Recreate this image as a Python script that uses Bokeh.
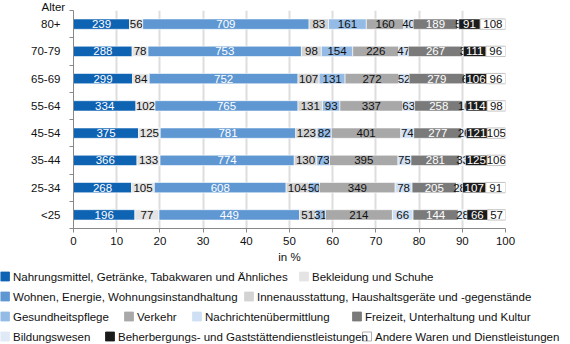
from bokeh.plotting import figure
from bokeh.models import ColumnDataSource, FixedTicker, Range1d, Title
from bokeh.embed import file_html
from bokeh.resources import INLINE
from bokeh.core.properties import value

ages = ["80+", "70-79", "65-69", "55-64", "45-54", "35-44", "25-34", "<25"]

nahrung = [239, 288, 299, 334, 375, 366, 268, 196]
bekleidung = [56, 78, 84, 102, 125, 133, 105, 77]
wohnen = [709, 753, 752, 765, 781, 774, 608, 449]
innen = [83, 98, 107, 131, 123, 130, 104, 51]
gesundheit = [161, 154, 131, 93, 82, 73, 50, 31]
verkehr = [160, 226, 272, 337, 401, 395, 349, 214]
nachrichten = [40, 47, 52, 63, 74, 75, 78, 66]
freizeit = [189, 267, 279, 258, 277, 281, 205, 144]
bildung = [5, 3, 6, 16, 26, 33, 28, 28]
beherbergung = [91, 111, 106, 114, 121, 125, 107, 66]
andere = [108, 96, 96, 98, 105, 106, 91, 57]

names = [
    "Nahrungsmittel, Getränke, Tabakwaren und Ähnliches",
    "Bekleidung und Schuhe",
    "Wohnen, Energie, Wohnungsinstandhaltung",
    "Innenausstattung, Haushaltsgeräte und -gegenstände",
    "Gesundheitspflege",
    "Verkehr",
    "Nachrichtenübermittlung",
    "Freizeit, Unterhaltung und Kultur",
    "Bildungswesen",
    "Beherbergungs- und Gaststättendienstleistungen",
    "Andere Waren und Dienstleistungen",
]
series = [nahrung, bekleidung, wohnen, innen, gesundheit, verkehr,
          nachrichten, freizeit, bildung, beherbergung, andere]
x_ticks = [0, 10, 20, 30, 40, 50, 60, 70, 80, 90, 100]
y_title = "Alter"
x_title = "in %"

colors = ["#0f63b3", "#e4e4e4", "#5e97d2", "#d3d3d3", "#94bbe5", "#a8a8a8",
          "#cfe0f4", "#7a7a7a", "#dfeaf6", "#1b1b1b", "#ffffff"]
label_colors = ["white", "#111111", "white", "#111111", "#111111", "#111111",
                "#111111", "white", "#111111", "white", "#111111"]
outline_colors = ["white"] * 10 + ["#9a9a9a"]

FONT = "Liberation Sans"
FS = "11.5px"

n = len(ages)
totals = [sum(s[i] for s in series) for i in range(n)]
ypos = [n - 0.5 - i for i in range(n)]

p = figure(width=570, height=268, x_range=Range1d(0, 100), y_range=Range1d(0, n),
           min_border_left=73, min_border_right=65, min_border_top=10,
           min_border_bottom=40, toolbar_location=None, output_backend="svg")
p.outline_line_color = None
p.ygrid.visible = False
p.xgrid.ticker = FixedTicker(ticks=x_ticks)
p.xgrid.grid_line_color = "#dddddd"
p.xgrid.grid_line_width = 2

t = Title(text=y_title, align="left", offset=-32, standoff=-5,
          text_font=FONT, text_font_size=FS, text_font_style="normal",
          text_color="#111111")
p.add_layout(t, "above")

cum = [0.0] * n
for k, s in enumerate(series):
    left = [cum[i] for i in range(n)]
    pct = [100.0 * s[i] / totals[i] for i in range(n)]
    right = [left[i] + pct[i] for i in range(n)]
    mid = [(left[i] + right[i]) / 2 for i in range(n)]
    src = ColumnDataSource(dict(y=ypos, left=left, right=right, mid=mid,
                                txt=[str(v) for v in s]))
    p.hbar(y="y", left="left", right="right", height=0.38, source=src,
           fill_color=colors[k], line_color=outline_colors[k], line_width=0.6)
    p.text(x="mid", y="y", text="txt", source=src, text_align="center",
           text_baseline="middle", text_font=value(FONT), text_font_size=FS,
           text_color=label_colors[k])
    cum = right

# x axis
xa = p.xaxis[0]
xa.ticker = FixedTicker(ticks=x_ticks)
xa.axis_label = x_title
xa.axis_label_text_font = FONT
xa.axis_label_text_font_style = "normal"
xa.axis_label_text_font_size = FS
xa.axis_label_text_color = "#111111"
xa.axis_label_standoff = 3
xa.major_label_text_font = FONT
xa.major_label_text_font_size = FS
xa.major_label_text_color = "#111111"
xa.major_label_standoff = 4
xa.major_tick_in = 0
xa.major_tick_out = 4
xa.minor_tick_line_color = None
xa.axis_line_color = "#888888"
xa.major_tick_line_color = "#888888"

# y axis
ya = p.yaxis[0]
ya.ticker = FixedTicker(ticks=ypos, minor_ticks=list(range(n + 1)))
ya.major_label_overrides = {ypos[i]: ages[i] for i in range(n)}
ya.major_label_text_font = FONT
ya.major_label_text_font_size = FS
ya.major_label_text_color = "#111111"
ya.major_tick_in = 0
ya.major_tick_out = 0
ya.major_label_standoff = 9
ya.minor_tick_in = 0
ya.minor_tick_out = 4
ya.minor_tick_line_color = "#888888"
ya.axis_line_color = "#888888"

# legend (flow layout, pixel coordinates)
leg_x = [0, 299, 0, 244, 0, 124, 192, 352, 0, 105, 362]
leg_y = [276, 276, 296, 296, 316, 316, 316, 316, 336, 336, 336]

lg = figure(width=570, height=76, x_range=Range1d(0, 570), y_range=Range1d(344, 268),
            x_axis_type=None, y_axis_type=None, toolbar_location=None,
            output_backend="svg", min_border=0, min_border_left=0,
            min_border_right=0, min_border_top=0, min_border_bottom=0)
lg.outline_line_color = None
lg.grid.visible = False
lsrc = ColumnDataSource(dict(
    sx=[x + 4.5 for x in leg_x], sy=leg_y, tx=[x + 12.5 for x in leg_x],
    name=names, color=colors, oc=[c if c != "#ffffff" else "#9a9a9a" for c in colors]))
lg.rect(x="sx", y="sy", width=9, height=9, source=lsrc, fill_color="color",
        line_color="oc", line_width=0.8)
lg.text(x="tx", y="sy", text="name", source=lsrc, text_align="left",
        text_baseline="middle", text_font=value(FONT), text_font_size=FS,
        text_color="#111111")

open("out.html", "w").write(file_html([p, lg], INLINE))
